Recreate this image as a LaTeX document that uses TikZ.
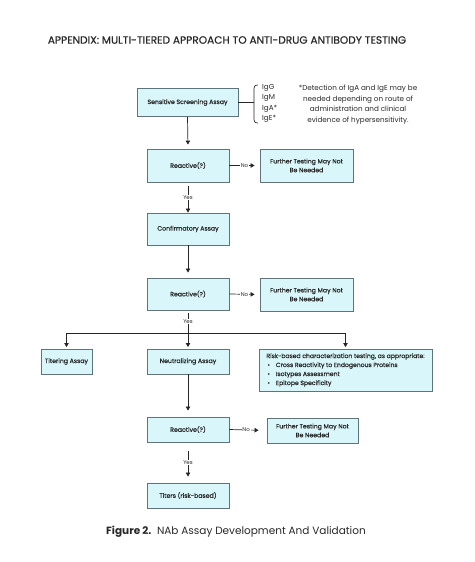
\documentclass[tikz,border=0pt]{standalone}
\usepackage{fontspec}
\setmainfont{Poppins}
\newfontfamily\medfont{Poppins}[FakeBold=0.6]
\usetikzlibrary{arrows.meta}
\definecolor{boxfill}{RGB}{217,247,251}
\definecolor{boxline}{RGB}{95,115,125}
\definecolor{txt}{RGB}{40,40,40}
\begin{document}
\begin{tikzpicture}[x=1pt,y=-1pt,
 box/.style={draw=boxline,fill=boxfill,line width=0.9pt,inner sep=0pt,align=center,
   font=\medfont\fontsize{6.2}{8.8}\selectfont,text=txt},
 arr/.style={-{Triangle[length=4pt,width=4.5pt]},line width=0.7pt,draw=black!85},
 ln/.style={line width=0.7pt,draw=black!85},
 lbl/.style={fill=white,inner sep=0.8pt,font=\fontsize{5.5}{5.5}\selectfont,text=txt}]
\useasboundingbox (0,0) rectangle (474,562);

\node[text=txt,font=\medfont\fontsize{10.6}{12}\selectfont] (title) at (227,40)
  {APPENDIX: MULTI-TIERED APPROACH TO ANTI-DRUG ANTIBODY TESTING};

\node[box,minimum width=101pt,minimum height=28pt] (scr) at (187.5,102.5) {Sensitive Screening Assay};
\node[box,minimum width=82pt,minimum height=33pt] (r1) at (188,165.5) {Reactive(?)};
\node[box,minimum width=93pt,minimum height=33pt] (f1) at (306.5,165.5) {Further Testing May Not\\Be Needed};
\node[box,minimum width=82pt,minimum height=32pt] (conf) at (188,229) {Confirmatory Assay};
\node[box,minimum width=82pt,minimum height=32pt] (r2) at (188,294) {Reactive(?)};
\node[box,minimum width=93pt,minimum height=33pt] (f2) at (306.5,294.5) {Further Testing May Not\\Be Needed};
\node[box,minimum width=51pt,minimum height=25pt] (tit) at (66.5,361.5) {Titering Assay};
\node[box,minimum width=82pt,minimum height=25pt] (neu) at (188,361.5) {Neutralizing Assay};
\node[box,minimum width=173pt,minimum height=42pt,align=left,font=\medfont\fontsize{6.1}{9}\selectfont] (risk) at (345.5,370)
  {Risk-based characterization testing, as appropriate:\\
   \hspace*{1pt}\textbullet\hspace{6pt}Cross Reactivity to Endogenous Proteins\\
   \hspace*{1pt}\textbullet\hspace{6pt}Isotypes Assessment\\
   \hspace*{1pt}\textbullet\hspace{6pt}Epitope Specificity};
\node[box,minimum width=82pt,minimum height=25pt] (r3) at (188,429.5) {Reactive(?)};
\node[box,minimum width=91pt,minimum height=25pt] (f3) at (312.5,430.5) {Further Testing May Not\\Be Needed};
\node[box,minimum width=82pt,minimum height=25pt] (tt) at (188,495.5) {Titers (risk-based)};

% bracket and notes
\coordinate (bm) at (254,102.5);
\draw[ln] (scr.east) -- (bm);
\draw[ln] (258,85) .. controls (254.5,85) and (254,86.5) .. (254,90) -- (254,118) .. controls (254,121.5) and (254.5,123) .. (258,123);
\node[anchor=north west,align=left,inner sep=0pt,text=txt,font=\fontsize{7.2}{10.5}\selectfont] (ig) at (262,84)
  {IgG\\IgM\\IgA*\\IgE*};
\node[align=center,inner sep=0pt,text=txt,font=\fontsize{7.2}{10.5}\selectfont] (note) at (358,104.5)
  {*Detection of IgA and IgE may be\\needed depending on route of\\administration and clinical\\evidence of hypersensitivity.};

% connectors
\draw[arr,shorten >=4pt] (scr.south) -- (r1.north);
\draw[arr,shorten >=5pt] (r1.east) -- node[lbl]{No} (f1.west);
\draw[arr,shorten <=4pt] (r1.south) -- node[lbl]{Yes} (conf.north);
\draw[arr,shorten >=5pt] (conf.south) -- (r2.north);
\draw[arr,shorten >=5pt] (r2.east) -- node[lbl]{No} (f2.west);
\coordinate (sp) at (188,333);
\draw[ln,shorten <=3pt] (r2.south) -- node[lbl]{Yes} (sp);
\draw[ln] (tit.north |- sp) -- (risk.north |- sp);
\draw[arr,shorten >=1.5pt] (tit.north |- sp) -- (tit.north);
\draw[arr,shorten >=1.5pt] (sp) -- (neu.north);
\draw[arr,shorten >=1.5pt] (risk.north |- sp) -- (risk.north);
\draw[arr,shorten >=6pt] (neu.south) -- (r3.north);
\draw[arr,shorten >=8pt] (r3.east) -- node[lbl,pos=0.45]{No} (f3.west);
\draw[arr,shorten <=9pt,shorten >=6pt] (r3.south) -- node[lbl]{Yes} (tt.north);

\node[text=txt,font=\fontsize{10.5}{12}\selectfont] (cap) at (236,532)
  {\textbf{Figure 2.}\ \ NAb Assay Development And Validation};
\end{tikzpicture}
\end{document}
